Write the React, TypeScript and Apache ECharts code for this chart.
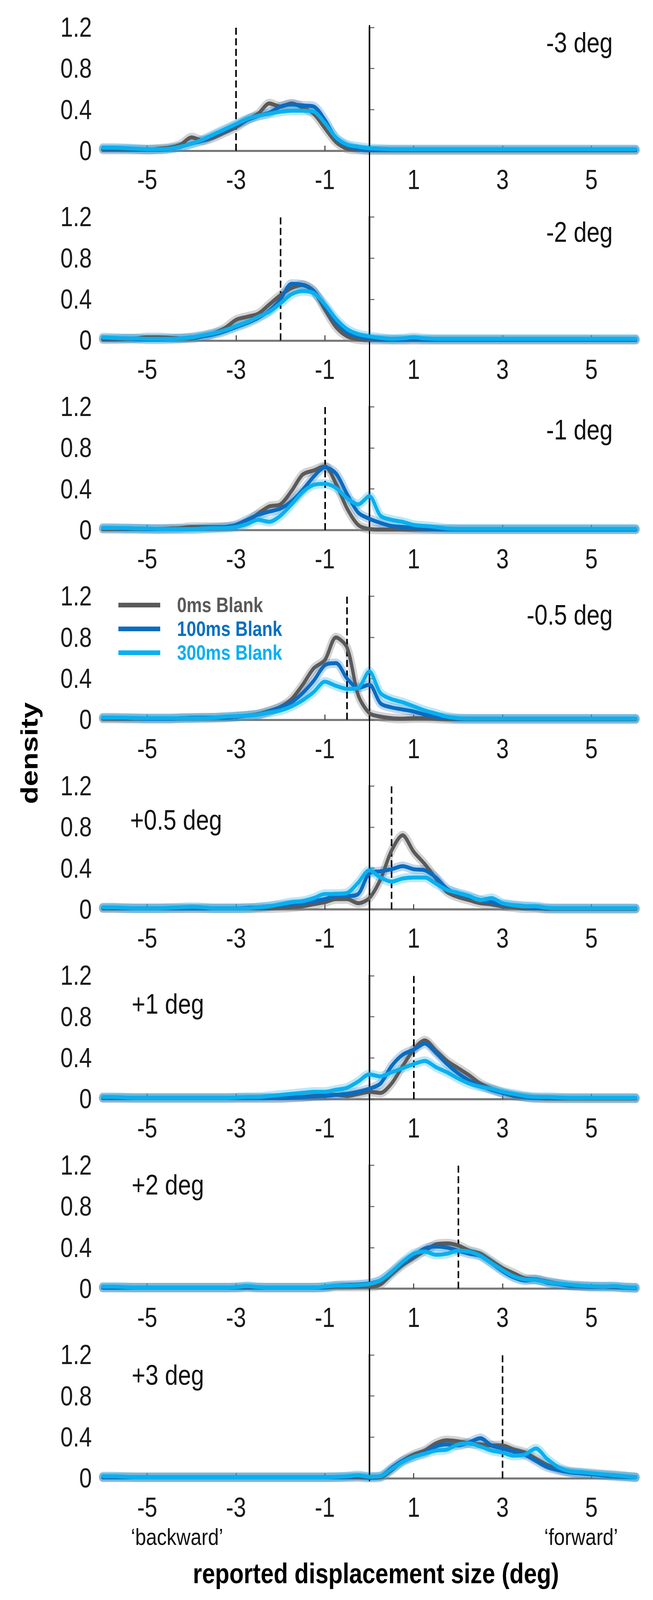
import { useEffect, useRef } from "react";
import * as echarts from "echarts";

// reported displacement (deg), sampled every 0.25 deg
const X = [
  -6, -5.75, -5.5, -5.25, -5, -4.75, -4.5, -4.25, -4, -3.75, -3.5, -3.25,
  -3, -2.75, -2.5, -2.25, -2, -1.75, -1.5, -1.25, -1, -0.75, -0.5, -0.25,
  0, 0.25, 0.5, 0.75, 1, 1.25, 1.5, 1.75, 2, 2.25, 2.5, 2.75,
  3, 3.25, 3.5, 3.75, 4, 4.25, 4.5, 4.75, 5, 5.25, 5.5, 5.75, 6,
];
const X_TICKS = [-5, -3, -1, 1, 3, 5];
const PANEL_LABELS = ["-3 deg", "-2 deg", "-1 deg", "-0.5 deg", "+0.5 deg", "+1 deg", "+2 deg", "+3 deg"];
const TARGETS = [-3, -2, -1, -0.5, 0.5, 1, 2, 3];
const CONDITIONS = ["0ms Blank", "100ms Blank", "300ms Blank"];

// -3 deg
const G1 = [.01,.01,.01,.01, .01,.02,.03,.06, .13,.10,.13,.18, .23,.30,.36,.46, .43,.46,.42,.36, .22,.085,.02,.01, .005,.005,.005,.005, .005,.005,.005,.005, .005,.005,.005,.005, .005,.005,.005,.005, .005,.005,.005,.005, .005,.005,.005,.005, .005];
const B1 = [.02,.02,.02,.015, .01,.01,.02,.04, .07,.10,.15,.20, .25,.30,.34,.37, .43,.45,.44,.43, .30,.12,.05,.02, .01,.01,.01,.01, .01,.01,.01,.01, .01,.01,.01,.01, .01,.01,.01,.01, .01,.01,.01,.01, .01,.01,.01,.01, .01];
const L1 = [.03,.03,.025,.02, .015,.015,.02,.04, .07,.11,.16,.21, .26,.31,.34,.36, .38,.39,.39,.38, .27,.13,.06,.04, .025,.02,.015,.015, .015,.015,.015,.015, .015,.015,.015,.015, .015,.015,.015,.015, .015,.015,.015,.015, .015,.015,.015,.015, .015];
// -2 deg
const G2 = [.01,.01,.015,.02, .03,.03,.025,.02, .02,.04,.07,.12, .20,.23,.26,.35, .44,.51,.54,.48, .30,.13,.04,.01, .005,.005,.005,.005, .005,.005,.005,.005, .005,.005,.005,.005, .005,.005,.005,.005, .005,.005,.005,.005, .005,.005,.005,.005, .005];
const B2 = [.02,.02,.02,.015, .01,.01,.015,.02, .03,.04,.06,.09, .13,.17,.22,.29, .40,.55,.54,.48, .33,.18,.08,.04, .02,.015,.01,.01, .015,.01,.01,.01, .01,.01,.01,.01, .01,.01,.01,.01, .01,.01,.01,.01, .01,.01,.01,.01, .01];
const L2 = [.03,.025,.02,.02, .015,.015,.015,.02, .03,.05,.07,.10, .14,.18,.23,.28, .36,.45,.48,.46, .35,.21,.11,.06, .04,.025,.015,.02, .03,.02,.015,.015, .015,.015,.015,.015, .015,.015,.015,.015, .015,.015,.015,.015, .015,.015,.015,.015, .015];
// -1 deg
const G3 = [.01,.01,.01,.01, .01,.01,.015,.02, .03,.03,.03,.03, .04,.08,.16,.23, .25,.38,.54,.58, .62,.45,.21,.05, .01,.005,.005,.005, .005,.005,.005,.005, .005,.005,.005,.005, .005,.005,.005,.005, .005,.005,.005,.005, .005,.005,.005,.005, .005];
const B3 = [.02,.02,.015,.015, .01,.01,.01,.01, .01,.015,.02,.03, .05,.10,.15,.18, .21,.28,.39,.52, .61,.55,.35,.17, .11,.07,.04,.03, .02,.015,.01,.01, .01,.01,.01,.01, .01,.01,.01,.01, .01,.01,.01,.01, .01,.01,.01,.01, .01];
const L3 = [.02,.02,.02,.015, .015,.01,.01,.01, .01,.015,.02,.02, .03,.06,.10,.08, .14,.25,.37,.44, .45,.41,.31,.25, .33,.14,.10,.08, .05,.04,.03,.015, .012,.012,.012,.012, .012,.012,.012,.012, .012,.012,.012,.012, .012,.012,.012,.012, .012];
// -0.5 deg
const G4 = [.01,.01,.01,.01, .01,.01,.01,.015, .02,.02,.02,.02, .03,.04,.055,.085, .125,.20,.34,.50, .58,.80,.70,.24, .065,.03,.015,.01, .015,.015,.01,.005, .005,.005,.005,.005, .005,.005,.005,.005, .005,.005,.005,.005, .005,.005,.005,.005, .005];
const B4 = [.02,.02,.015,.015, .01,.01,.01,.015, .015,.02,.02,.025, .03,.04,.05,.08, .12,.17,.26,.38, .53,.55,.40,.31, .34,.16,.12,.10, .08,.05,.03,.02, .01,.01,.01,.01, .01,.01,.01,.01, .01,.01,.01,.01, .01,.01,.01,.01, .01];
const L4 = [.02,.02,.02,.015, .015,.015,.015,.015, .015,.015,.02,.03, .035,.04,.05,.07, .09,.13,.19,.27, .37,.33,.30,.31, .47,.26,.20,.17, .13,.09,.06,.03, .015,.01,.01,.01, .01,.01,.01,.01, .01,.01,.01,.01, .01,.01,.01,.01, .01];
// +0.5 deg
const G5 = [.01,.01,.01,.01, .01,.01,.01,.01, .01,.01,.01,.01, .01,.01,.01,.01, .015,.02,.03,.05, .07,.10,.10,.06, .11,.29,.57,.72, .56,.44,.30,.17, .12,.09,.06,.05, .03,.02,.01,.01, .005,.005,.005,.005, .005,.005,.005,.005, .005];
const B5 = [.015,.015,.01,.01, .01,.01,.01,.01, .01,.01,.01,.01, .01,.015,.02,.03, .04,.05,.06,.08, .10,.13,.13,.15, .35,.37,.39,.42, .39,.38,.31,.20, .15,.12,.09,.07, .05,.04,.03,.02, .01,.01,.01,.01, .01,.01,.01,.01, .01];
const L5 = [.02,.02,.015,.01, .01,.01,.015,.02, .025,.02,.01,.01, .01,.01,.02,.03, .05,.07,.08,.11, .15,.15,.16,.26, .38,.31,.27,.30, .31,.31,.25,.19, .16,.13,.09,.11, .06,.04,.03,.03, .015,.01,.01,.01, .01,.01,.01,.01, .01];
// +1 deg
const G6 = [.01,.01,.01,.01, .01,.01,.01,.01, .01,.01,.01,.01, .01,.01,.01,.01, .01,.015,.02,.03, .04,.04,.03,.05, .07,.06,.15,.32, .48,.57,.47,.37, .30,.23,.15,.10, .06,.03,.02,.01, .005,.005,.005,.005, .005,.005,.005,.005, .005];
const B6 = [.01,.01,.01,.01, .01,.01,.01,.01, .01,.01,.01,.01, .01,.01,.01,.01, .01,.015,.02,.025, .03,.04,.05,.07, .10,.15,.32,.43, .48,.54,.45,.34, .25,.18,.13,.09, .06,.04,.02,.01, .01,.01,.01,.01, .01,.01,.01,.01, .01];
const L6 = [.02,.02,.015,.01, .01,.01,.01,.01, .01,.01,.01,.01, .015,.02,.02,.03, .04,.05,.06,.07, .07,.09,.11,.17, .24,.22,.26,.30, .34,.37,.31,.26, .20,.15,.12,.10, .07,.05,.03,.02, .02,.015,.01,.01, .01,.01,.01,.01, .01];
// +2 deg
const G7 = [.01,.01,.01,.01, .01,.01,.01,.01, .01,.01,.01,.01, .01,.01,.01,.01, .01,.01,.01,.01, .01,.02,.02,.02, .02,.04,.14,.23, .30,.37,.43,.44, .42,.37,.34,.27, .20,.15,.10,.09, .07,.05,.03,.025, .02,.02,.015,.01, .01];
const B7 = [.01,.01,.01,.01, .01,.01,.01,.01, .01,.01,.01,.01, .01,.02,.01,.01, .01,.01,.01,.01, .015,.03,.035,.04, .05,.08,.16,.25, .32,.39,.41,.40, .37,.34,.32,.25, .17,.11,.08,.09, .06,.045,.03,.025, .02,.02,.02,.01, .005];
const L7 = [.02,.02,.015,.01, .01,.01,.01,.01, .01,.01,.01,.01, .015,.025,.015,.01, .01,.01,.01,.01, .02,.03,.03,.035, .045,.08,.16,.26, .34,.36,.33,.34, .37,.36,.32,.25, .18,.12,.09,.085, .065,.05,.04,.03, .025,.02,.025,.015, .01];
// +3 deg
const G8 = [.01,.01,.01,.01, .01,.01,.01,.01, .01,.01,.01,.01, .01,.01,.01,.01, .01,.01,.01,.01, .01,.01,.01,.01, .005,.01,.08,.17, .23,.27,.34,.37, .36,.34,.33,.32, .32,.28,.25,.19, .13,.09,.06,.05, .04,.035,.03,.02, .01];
const B8 = [.01,.01,.01,.01, .01,.01,.01,.01, .01,.01,.01,.01, .01,.01,.01,.01, .01,.01,.01,.01, .01,.01,.015,.02, .015,.02,.10,.17, .21,.25,.31,.33, .32,.35,.39,.32, .29,.26,.23,.17, .11,.08,.06,.05, .04,.03,.02,.015, .01];
const L8 = [.02,.02,.015,.01, .01,.01,.01,.01, .01,.01,.01,.01, .01,.01,.01,.01, .01,.01,.01,.01, .01,.015,.02,.03, .015,.02,.09,.16, .21,.24,.27,.28, .33,.34,.31,.27, .25,.22,.23,.29, .19,.11,.07,.06, .05,.04,.03,.02, .01];

const CURVES = [
  [G1, B1, L1], [G2, B2, L2], [G3, B3, L3], [G4, B4, L4],
  [G5, B5, L5], [G6, B6, L6], [G7, B7, L7], [G8, B8, L8],
];

// styling / layout (layout values are page pixels)
const FONT = "'Liberation Sans', Arial, sans-serif";
const LINE_COLORS = ["#5a5a5a", "#0a6cc0", "#0ab0ee"];
const BAND_COLORS = ["rgba(140,140,140,0.38)", "rgba(30,110,200,0.28)", "rgba(50,185,240,0.33)"];
const TEXT_COLORS = ["#595959", "#0070c0", "#00b0f0"];
const W = 1671;
const H = 4100;
// the figure is slightly stretched vertically; draw at H / S and scale the div
const S = 1.2;
const PLOT_LEFT = 263;
const PLOT_RIGHT = 44;
const FIRST_TOP = 70;
const PITCH = 485.5;
const PLOT_H = 316;
const LABEL_CAP_TOP = [13, 12, 33, 21, 61, 46, 24, 25];
const LABEL_LEFT = [0, 0, 0, 0, 333, 337, 337, 337];

const py = (v: number) => v / S;

export default function App() {
  const ref = useRef<HTMLDivElement>(null);

  useEffect(() => {
    if (!ref.current) return;
    const chart = echarts.init(ref.current, null, { renderer: "svg" });

    const panels = PANEL_LABELS.map((_, i) => i);
    const grids: any[] = panels.map((i) => ({
      left: PLOT_LEFT,
      right: PLOT_RIGHT,
      top: py(FIRST_TOP + PITCH * i),
      height: py(PLOT_H),
    }));
    // overlay grid for the continuous zero line
    grids.push({ left: PLOT_LEFT, right: PLOT_RIGHT, top: py(64), height: py(3728) });

    const xAxes: any[] = panels.map((i) => ({
      gridIndex: i,
      type: "value",
      min: -6,
      max: 6,
      axisLine: { show: true, onZero: false, lineStyle: { color: "#777", width: 4.4 } },
      axisTick: { show: true, inside: true, length: 11, customValues: X_TICKS, lineStyle: { color: "#333", width: 2.5 } },
      axisLabel: {
        customValues: X_TICKS,
        formatter: (v: number) => String(v),
        fontSize: 58,
        fontFamily: FONT,
        color: "#1a1a1a",
        margin: 33,
      },
      splitLine: { show: false },
    }));
    xAxes.push({ gridIndex: 8, type: "value", min: -6, max: 6, show: false });

    const yAxes: any[] = panels.map((i) => ({
      gridIndex: i,
      type: "value",
      min: 0,
      max: 1.2,
      interval: 0.4,
      axisLine: { show: true, lineStyle: { color: "#858585", width: 5 } },
      axisTick: { show: true, inside: true, length: 13, lineStyle: { color: "#666", width: 2.2 } },
      axisLabel: {
        formatter: (v: number) => (v === 0 ? "0" : v.toFixed(1)),
        fontSize: 58,
        fontFamily: FONT,
        color: "#1a1a1a",
        margin: 28,
      },
      splitLine: { show: false },
    }));
    yAxes.push({ gridIndex: 8, type: "value", min: 0, max: 1, show: false });

    const series: any[] = [];
    panels.forEach((i) => {
      CURVES[i].forEach((ys, k) => {
        series.push({
          name: CONDITIONS[k] + " band",
          type: "line",
          xAxisIndex: i,
          yAxisIndex: i,
          data: X.map((x, j) => [x, ys[j]]),
          smooth: 0.3,
          symbol: "none",
          silent: true,
          z: 2 + k,
          lineStyle: { color: BAND_COLORS[k], width: 20, cap: "round", join: "round" },
        });
      });
      CURVES[i].forEach((ys, k) => {
        series.push({
          name: CONDITIONS[k],
          type: "line",
          xAxisIndex: i,
          yAxisIndex: i,
          data: X.map((x, j) => [x, ys[j]]),
          smooth: 0.3,
          symbol: "none",
          color: LINE_COLORS[k],
          itemStyle: { color: LINE_COLORS[k] },
          z: 6 + k,
          lineStyle: { color: LINE_COLORS[k], width: 8.5, cap: "round", join: "round" },
        });
      });
      series.push({
        type: "line",
        xAxisIndex: i,
        yAxisIndex: i,
        data: [],
        z: 12,
        markLine: {
          silent: true,
          symbol: ["none", "none"],
          label: { show: false },
          lineStyle: { color: "#000", width: 4, type: [15, 7.5] },
          data: [{ xAxis: TARGETS[i] }],
        },
      });
    });
    series.push({
      type: "line",
      xAxisIndex: 8,
      yAxisIndex: 8,
      data: [],
      z: 13,
      markLine: {
        silent: true,
        symbol: ["none", "none"],
        label: { show: false },
        lineStyle: { color: "#000", width: 3, type: "solid" },
        data: [{ xAxis: 0 }],
      },
    });

    const titles = panels.map((i) => {
      const base: any = {
        text: PANEL_LABELS[i],
        top: py(FIRST_TOP + PITCH * i + LABEL_CAP_TOP[i]) - 8,
        padding: 0,
        textStyle: { fontSize: 60, fontWeight: "normal", fontFamily: FONT, color: "#111" },
      };
      if (i < 4) base.right = W - 1568;
      else base.left = LABEL_LEFT[i];
      return base;
    });

    chart.setOption({
      animation: false,
      backgroundColor: "#fff",
      title: titles,
      grid: grids,
      xAxis: xAxes,
      yAxis: yAxes,
      legend: {
        left: 303,
        top: py(1549) - py(61) / 2,
        orient: "vertical",
        padding: 0,
        itemGap: 0,
        itemWidth: 107,
        itemHeight: 10,
        icon: "rect",
        selectedMode: false,
        textStyle: { fontSize: 44, fontWeight: "bold", fontFamily: FONT, lineHeight: py(61), padding: [0, 0, 0, 38] },
        data: CONDITIONS.map((n, k) => ({ name: n, textStyle: { color: TEXT_COLORS[k] } })),
      },
      graphic: [
        {
          type: "text",
          x: 75,
          y: py(1928),
          rotation: Math.PI / 2,
          style: {
            text: "density",
            fontSize: 62,
            fontWeight: "bold",
            fontFamily: FONT,
            fill: "#000",
            align: "center",
            verticalAlign: "middle",
          },
        },
        {
          type: "text",
          x: 453,
          y: py(3934),
          style: { text: "\u2018backward\u2019", fontSize: 50, fontFamily: FONT, fill: "#111", align: "center", verticalAlign: "middle" },
        },
        {
          type: "text",
          x: 1487,
          y: py(3934),
          style: { text: "\u2018forward\u2019", fontSize: 50, fontFamily: FONT, fill: "#111", align: "center", verticalAlign: "middle" },
        },
        {
          type: "text",
          x: 962,
          y: py(4028),
          style: {
            text: "reported displacement size (deg)",
            fontSize: 60,
            fontWeight: "bold",
            fontFamily: FONT,
            fill: "#000",
            align: "center",
            verticalAlign: "middle",
          },
        },
      ],
      series,
    });

    return () => {
      chart.dispose();
    };
  }, []);

  return (
    <div style={{ position: "absolute", left: 0, top: 0, width: W, height: H, overflow: "hidden", background: "#fff" }}>
      <div
        ref={ref}
        style={{ width: W, height: H / S, transform: `scaleY(${S})`, transformOrigin: "0 0" }}
      />
    </div>
  );
}
